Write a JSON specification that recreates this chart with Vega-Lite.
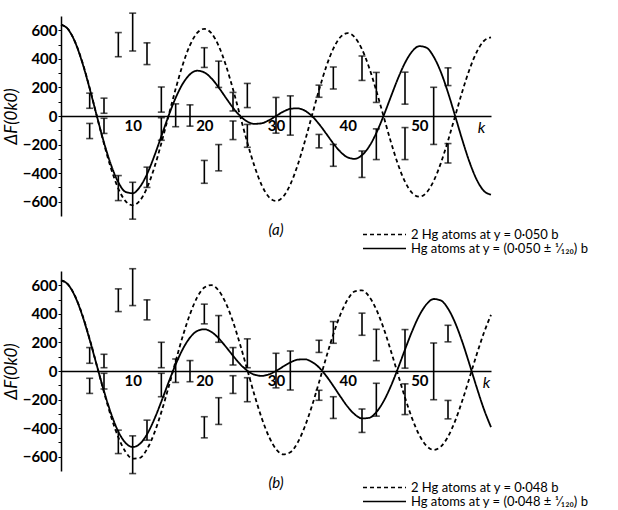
{
  "$schema": "https://vega.github.io/schema/vega-lite/v6.json",
  "background": "white",
  "padding": {"left": 2, "top": 12, "right": 5, "bottom": 5},
  "spacing": 11,
  "config": {
    "font": "Lato",
    "view": {"stroke": null},
    "axis": {"domainColor": "black", "tickColor": "black", "labelColor": "black", "titleColor": "black", "grid": false},
    "axisY": {"labelOverlap": false, "labelFontSize": 15, "labelFontWeight": "bold", "labelPadding": 1, "tickSize": 3, "domainWidth": 1.5,
      "titleFontStyle": "italic", "titleFontWeight": "normal", "titleFontSize": 17, "titlePadding": 2},
    "legend": {"labelColor": "black"}
  },
  "datasets": {
    "curves_a": [
      {"k":0,"d":640,"s":640},{"k":1,"d":607,"s":606},{"k":2,"d":515,"s":513},{"k":3,"d":374,"s":369},{"k":4,"d":196,"s":192},
      {"k":5,"d":0,"s":0},{"k":6,"d":-195,"s":-186},{"k":7,"d":-370,"s":-345},{"k":8,"d":-508,"s":-464},{"k":9,"d":-596,"s":-531},
      {"k":10,"d":-625,"s":-541},{"k":11,"d":-593,"s":-497},{"k":12,"d":-503,"s":-407},{"k":13,"d":-365,"s":-283},{"k":14,"d":-191,"s":-142},
      {"k":15,"d":0,"s":0},{"k":16,"d":190,"s":127},{"k":17,"d":361,"s":227},{"k":18,"d":496,"s":292},{"k":19,"d":582,"s":317},
      {"k":20,"d":610,"s":305},{"k":21,"d":579,"s":263},{"k":22,"d":491,"s":200},{"k":23,"d":356,"s":128},{"k":24,"d":187,"s":58},
      {"k":25,"d":0,"s":0},{"k":26,"d":-186,"s":-39},{"k":27,"d":-352,"s":-55},{"k":28,"d":-484,"s":-51},{"k":29,"d":-567,"s":-30},
      {"k":30,"d":-595,"s":0},{"k":31,"d":-565,"s":30},{"k":32,"d":-479,"s":50},{"k":33,"d":-347,"s":54},{"k":34,"d":-182,"s":38},
      {"k":35,"d":0,"s":0},{"k":36,"d":181,"s":-56},{"k":37,"d":344,"s":-123},{"k":38,"d":472,"s":-192},{"k":39,"d":553,"s":-251},
      {"k":40,"d":580,"s":-290},{"k":41,"d":550,"s":-300},{"k":42,"d":467,"s":-274},{"k":43,"d":338,"s":-213},{"k":44,"d":177,"s":-119},
      {"k":45,"d":0,"s":0},{"k":46,"d":-176,"s":131},{"k":47,"d":-335,"s":260},{"k":48,"d":-460,"s":372},{"k":49,"d":-539,"s":452},
      {"k":50,"d":-565,"s":489},{"k":51,"d":-536,"s":478},{"k":52,"d":-455,"s":415},{"k":53,"d":-330,"s":308},{"k":54,"d":-173,"s":164},
      {"k":55,"d":0,"s":0},{"k":56,"d":172,"s":-168},{"k":57,"d":326,"s":-322},{"k":58,"d":447,"s":-445},{"k":59,"d":525,"s":-524},
      {"k":60,"d":550,"s":-550}
    ],
    "curves_b": [
      {"k":0,"d":635,"s":635},{"k":1,"d":605,"s":604},{"k":2,"d":520,"s":518},{"k":3,"d":390,"s":385},{"k":4,"d":224,"s":219},
      {"k":5,"d":39,"s":38},{"k":6,"d":-148,"s":-141},{"k":7,"d":-321,"s":-300},{"k":8,"d":-464,"s":-424},{"k":9,"d":-565,"s":-503},
      {"k":10,"d":-614,"s":-532},{"k":11,"d":-608,"s":-510},{"k":12,"d":-547,"s":-443},{"k":13,"d":-437,"s":-340},{"k":14,"d":-288,"s":-214},
      {"k":15,"d":-115,"s":-81},{"k":16,"d":69,"s":46},{"k":17,"d":245,"s":154},{"k":18,"d":398,"s":234},{"k":19,"d":515,"s":280},
      {"k":20,"d":584,"s":292},{"k":21,"d":601,"s":273},{"k":22,"d":563,"s":229},{"k":23,"d":475,"s":170},{"k":24,"d":345,"s":107},
      {"k":25,"d":184,"s":48},{"k":26,"d":8,"s":2},{"k":27,"d":-169,"s":-26},{"k":28,"d":-329,"s":-34},{"k":29,"d":-458,"s":-24},
      {"k":30,"d":-546,"s":0},{"k":31,"d":-584,"s":31},{"k":32,"d":-569,"s":60},{"k":33,"d":-503,"s":79},{"k":34,"d":-392,"s":82},
      {"k":35,"d":-247,"s":64},{"k":36,"d":-80,"s":25},{"k":37,"d":94,"s":-34},{"k":38,"d":257,"s":-105},{"k":39,"d":397,"s":-180},
      {"k":40,"d":500,"s":-250},{"k":41,"d":558,"s":-304},{"k":42,"d":565,"s":-332},{"k":43,"d":521,"s":-328},{"k":44,"d":430,"s":-288},
      {"k":45,"d":302,"s":-213},{"k":46,"d":146,"s":-109},{"k":47,"d":-21,"s":16},{"k":48,"d":-186,"s":150},{"k":49,"d":-333,"s":279},
      {"k":50,"d":-449,"s":389},{"k":51,"d":-524,"s":467},{"k":52,"d":-552,"s":504},{"k":53,"d":-529,"s":494},{"k":54,"d":-460,"s":437},
      {"k":55,"d":-349,"s":337},{"k":56,"d":-207,"s":203},{"k":57,"d":-48,"s":47},{"k":58,"d":115,"s":-114},{"k":59,"d":266,"s":-266},
      {"k":60,"d":393,"s":-393}
    ],
    "bars_a": [
      {"k":4,"lo":54,"hi":160},{"k":4,"lo":-158,"hi":-52},
      {"k":6,"lo":19,"hi":125},{"k":6,"lo":-122,"hi":-16},
      {"k":8,"lo":415,"hi":584},{"k":8,"lo":-592,"hi":-417},
      {"k":10,"lo":455,"hi":720},{"k":10,"lo":-722,"hi":-464},
      {"k":12,"lo":360,"hi":512},{"k":12,"lo":-500,"hi":-358},
      {"k":14,"lo":27,"hi":203},{"k":14,"lo":-170,"hi":-12},
      {"k":16,"lo":-75,"hi":85},
      {"k":18,"lo":-71,"hi":78},
      {"k":20,"lo":340,"hi":478},{"k":20,"lo":-471,"hi":-311},
      {"k":22,"lo":200,"hi":384},{"k":22,"lo":-384,"hi":-200},
      {"k":24,"lo":35,"hi":165},{"k":24,"lo":-165,"hi":-35},
      {"k":26,"lo":59,"hi":228},{"k":26,"lo":-219,"hi":-59},
      {"k":30,"lo":-120,"hi":130},
      {"k":32,"lo":-134,"hi":141},
      {"k":36,"lo":131,"hi":216},{"k":36,"lo":-223,"hi":-129},
      {"k":38,"lo":189,"hi":343},{"k":38,"lo":-352,"hi":-199},
      {"k":42,"lo":249,"hi":420},{"k":42,"lo":-430,"hi":-245},
      {"k":44,"lo":95,"hi":305},{"k":44,"lo":-305,"hi":-90},
      {"k":48,"lo":83,"hi":307},{"k":48,"lo":-305,"hi":-81},
      {"k":52,"lo":-199,"hi":201},
      {"k":54,"lo":213,"hi":337},{"k":54,"lo":-329,"hi":-193}
    ],
    "bars_b": [
      {"k":4,"lo":54,"hi":164},{"k":4,"lo":-157,"hi":-51},
      {"k":6,"lo":23,"hi":117},{"k":6,"lo":-126,"hi":-16},
      {"k":8,"lo":416,"hi":575},{"k":8,"lo":-578,"hi":-414},
      {"k":10,"lo":458,"hi":716},{"k":10,"lo":-718,"hi":-454},
      {"k":12,"lo":358,"hi":498},{"k":12,"lo":-484,"hi":-344},
      {"k":14,"lo":23,"hi":201},{"k":14,"lo":-180,"hi":-16},
      {"k":16,"lo":-80,"hi":84},
      {"k":18,"lo":-75,"hi":73},
      {"k":20,"lo":330,"hi":468},{"k":20,"lo":-468,"hi":-320},
      {"k":22,"lo":201,"hi":388},{"k":22,"lo":-374,"hi":-187},
      {"k":24,"lo":42,"hi":164},{"k":24,"lo":-157,"hi":-33},
      {"k":26,"lo":23,"hi":225},{"k":26,"lo":-215,"hi":-47},
      {"k":30,"lo":-118,"hi":124},
      {"k":32,"lo":-133,"hi":140},
      {"k":36,"lo":130,"hi":215},{"k":36,"lo":-205,"hi":-135},
      {"k":38,"lo":194,"hi":346},{"k":38,"lo":-332,"hi":-180},
      {"k":42,"lo":250,"hi":405},{"k":42,"lo":-430,"hi":-266},
      {"k":44,"lo":72,"hi":292},{"k":44,"lo":-316,"hi":-86},
      {"k":48,"lo":20,"hi":290},{"k":48,"lo":-305,"hi":-90},
      {"k":52,"lo":-201,"hi":196},
      {"k":54,"lo":204,"hi":320},{"k":54,"lo":-335,"hi":-206}
    ]
  },
  "vconcat": [
    {
      "width": 430,
      "height": 200,
      "title": {"text": "(a)", "orient": "bottom", "anchor": "middle", "fontStyle": "italic", "fontWeight": "normal", "fontSize": 15, "offset": -33, "color": "black"},
      "layer": [
        {
          "data": {"name": "curves_a"},
          "transform": [{"fold": ["d", "s"], "as": ["curve", "v"]}],
          "mark": {"type": "line", "color": "black", "strokeWidth": 1.8, "interpolate": "monotone"},
          "encoding": {
            "x": {"field": "k", "type": "quantitative", "scale": {"domain": [0, 60], "nice": false},
              "axis": {"values": [10, 20, 30, 40, 50], "offset": -100, "ticks": false, "domainWidth": 1.5, "labelFontSize": 15, "labelFontWeight": "bold", "labelPadding": 2, "labelFlush": false,
                "title": "k", "titleFontStyle": "italic", "titleFontWeight": "normal", "titleFontSize": 16, "titleX": 420, "titleY": 3, "titleBaseline": "top", "titleAlign": "center"}},
            "y": {"field": "v", "type": "quantitative", "scale": {"domain": [-700, 700], "nice": false},
              "axis": {"values": [-600, -500, -400, -300, -200, -100, 0, 100, 200, 300, 400, 500, 600], "labelOverlap": false,
                "labelExpr": "datum.value % 200 == 0 ? datum.label : ''", "title": "ΔF(0k0)"}},
            "strokeDash": {"field": "curve", "type": "nominal", "scale": {"domain": ["d", "s"], "range": [[4, 3], [1, 0]]},
              "legend": {"orient": "none", "legendX": 317, "legendY": 212, "title": null, "symbolType": "M-4.3,0H4.3", "symbolSize": 100, "symbolStrokeWidth": 1.5, "symbolStrokeColor": "black",
                "labelFontSize": 13, "labelLimit": 400, "labelOffset": 20, "rowPadding": -1,
                "labelExpr": "datum.value == 'd' ? '2 Hg atoms at y = 0·050 b' : 'Hg atoms at y = (0·050 ± ¹⁄₁₂₀) b'"}}
          }
        },
        {
          "data": {"name": "bars_a"},
          "mark": {"type": "errorbar", "ticks": {"size": 7, "thickness": 1.6, "color": "black"}, "rule": {"strokeWidth": 1.6, "color": "black"}},
          "encoding": {
            "x": {"field": "k", "type": "quantitative"},
            "y": {"field": "lo", "type": "quantitative",
              "axis": {"values": [-600, -500, -400, -300, -200, -100, 0, 100, 200, 300, 400, 500, 600], "labelOverlap": false,
                "labelExpr": "datum.value % 200 == 0 ? datum.label : ''", "title": "ΔF(0k0)"}},
            "y2": {"field": "hi"}
          }
        }
      ]
    },
    {
      "width": 430,
      "height": 200,
      "title": {"text": "(b)", "orient": "bottom", "anchor": "middle", "fontStyle": "italic", "fontWeight": "normal", "fontSize": 15, "offset": -33, "color": "black"},
      "layer": [
        {
          "data": {"name": "curves_b"},
          "transform": [{"fold": ["d", "s"], "as": ["curve", "v"]}],
          "mark": {"type": "line", "color": "black", "strokeWidth": 1.8, "interpolate": "monotone"},
          "encoding": {
            "x": {"field": "k", "type": "quantitative", "scale": {"domain": [0, 60], "nice": false},
              "axis": {"values": [10, 20, 30, 40, 50], "offset": -100, "ticks": false, "domainWidth": 1.5, "labelFontSize": 15, "labelFontWeight": "bold", "labelPadding": 2, "labelFlush": false,
                "title": "k", "titleFontStyle": "italic", "titleFontWeight": "normal", "titleFontSize": 16, "titleX": 425, "titleY": 3, "titleBaseline": "top", "titleAlign": "center"}},
            "y": {"field": "v", "type": "quantitative", "scale": {"domain": [-700, 700], "nice": false},
              "axis": {"values": [-600, -500, -400, -300, -200, -100, 0, 100, 200, 300, 400, 500, 600], "labelOverlap": false,
                "labelExpr": "datum.value % 200 == 0 ? datum.label : ''", "title": "ΔF(0k0)"}},
            "strokeDash": {"field": "curve", "type": "nominal", "scale": {"domain": ["d", "s"], "range": [[4, 3], [1, 0]]},
              "legend": {"orient": "none", "legendX": 317, "legendY": 210, "title": null, "symbolType": "M-4.3,0H4.3", "symbolSize": 100, "symbolStrokeWidth": 1.5, "symbolStrokeColor": "black",
                "labelFontSize": 13, "labelLimit": 400, "labelOffset": 20, "rowPadding": -1,
                "labelExpr": "datum.value == 'd' ? '2 Hg atoms at y = 0·048 b' : 'Hg atoms at y = (0·048 ± ¹⁄₁₂₀) b'"}}
          }
        },
        {
          "data": {"name": "bars_b"},
          "mark": {"type": "errorbar", "ticks": {"size": 7, "thickness": 1.6, "color": "black"}, "rule": {"strokeWidth": 1.6, "color": "black"}},
          "encoding": {
            "x": {"field": "k", "type": "quantitative"},
            "y": {"field": "lo", "type": "quantitative",
              "axis": {"values": [-600, -500, -400, -300, -200, -100, 0, 100, 200, 300, 400, 500, 600], "labelOverlap": false,
                "labelExpr": "datum.value % 200 == 0 ? datum.label : ''", "title": "ΔF(0k0)"}},
            "y2": {"field": "hi"}
          }
        }
      ]
    }
  ],
  "resolve": {"scale": {"strokeDash": "independent"}, "legend": {"strokeDash": "independent"}}
}
